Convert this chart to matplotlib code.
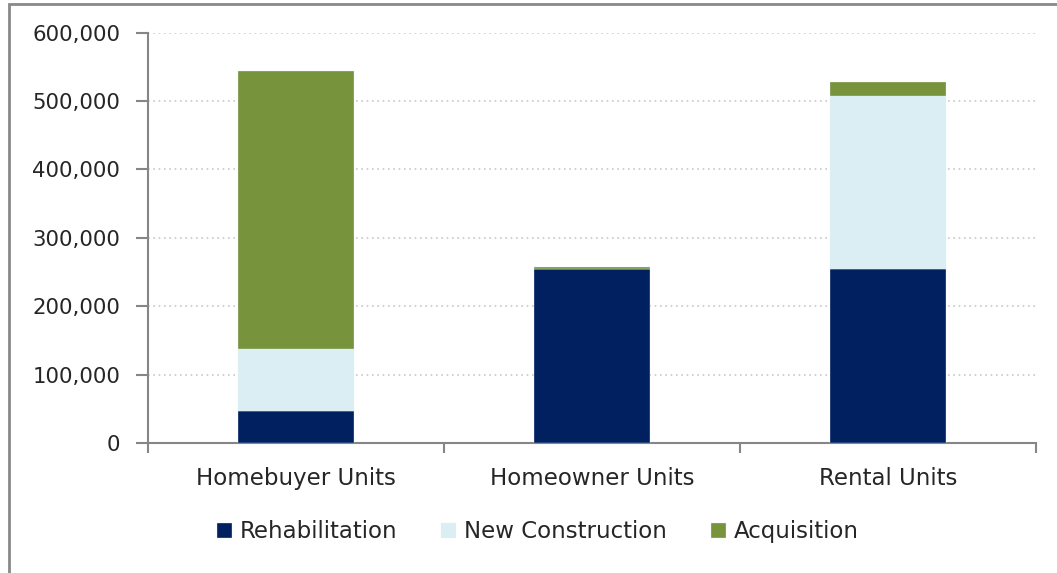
import matplotlib
matplotlib.use("Agg")
import matplotlib.pyplot as plt
import matplotlib.patches as mpatches
import numpy as np

categories = ["Homebuyer Units", "Homeowner Units", "Rental Units"]
series_names = ["Rehabilitation", "New Construction", "Acquisition"]
rehabilitation = [46500, 254500, 254500]
new_construction = [90500, 0, 253500]
acquisition = [407000, 2500, 20500]
colors = ["#002060", "#DAEEF3", "#77933C"]
yticks = [0, 100000, 200000, 300000, 400000, 500000, 600000]

plt.rcParams['font.family'] = ['DejaVu Sans']

W, H = 1057, 573
fig = plt.figure(figsize=(W / 100, H / 100), dpi=100)
ax = fig.add_axes([148 / W, 1 - 443 / H, (1036 - 148) / W, (443 - 32.7) / H])

x = np.arange(len(categories))
bottom = np.zeros(len(categories))
handles = []
for name, vals, c in zip(series_names, [rehabilitation, new_construction, acquisition], colors):
    b = ax.bar(x, vals, width=0.395, bottom=bottom, color=c, label=name,
               edgecolor="#E8EEF4", linewidth=0.25, zorder=3)
    bottom += np.array(vals)
    handles.append(b)

ax.set_xlim(-0.5, len(categories) - 0.5)
ax.set_ylim(0, 600000)
ax.set_yticks(yticks)
ax.set_yticklabels([f"{v:,}" for v in yticks])

# grid
ax.yaxis.grid(True, linestyle=(0, (1, 2.2)), color="#C8C8C8", linewidth=1.2, zorder=0)
ax.set_axisbelow(True)

for s in ["top", "right"]:
    ax.spines[s].set_visible(False)
for s in ["left", "bottom"]:
    ax.spines[s].set_color("#868686")
    ax.spines[s].set_linewidth(1.5)

ax.tick_params(axis="y", direction="out", length=9, width=1.5, color="#868686",
               labelsize=15.3, labelcolor="#262626", pad=11)

# category boundaries as major ticks, labels at minor ticks
ax.set_xticks(np.arange(-0.5, len(categories), 1.0))
ax.set_xticklabels([])
ax.tick_params(axis="x", which="major", direction="out", length=7, width=1.5, color="#868686")
ax.set_xticks(x, minor=True)
ax.set_xticklabels(categories, minor=True)
ax.tick_params(axis="x", which="minor", length=0, labelsize=16.5, labelcolor="#262626", pad=17)

leg = fig.legend(handles=handles, labels=series_names, loc="center",
                 bbox_to_anchor=(538 / W, 1 - 531.7 / H), ncol=3, frameon=False,
                 fontsize=16.5, handlelength=0.65, handleheight=0.65,
                 handletextpad=0.35, columnspacing=1.9)
for t in leg.get_texts():
    t.set_color("#262626")

# outer frame (top and left visible)
frame = mpatches.Rectangle((8.5 / W, -0.2), 1.2, (573 - 4) / H + 0.2, transform=fig.transFigure,
                           fill=False, edgecolor="#898989", linewidth=2, clip_on=False)
fig.patches.append(frame)

fig.savefig("out.png", dpi=100)
